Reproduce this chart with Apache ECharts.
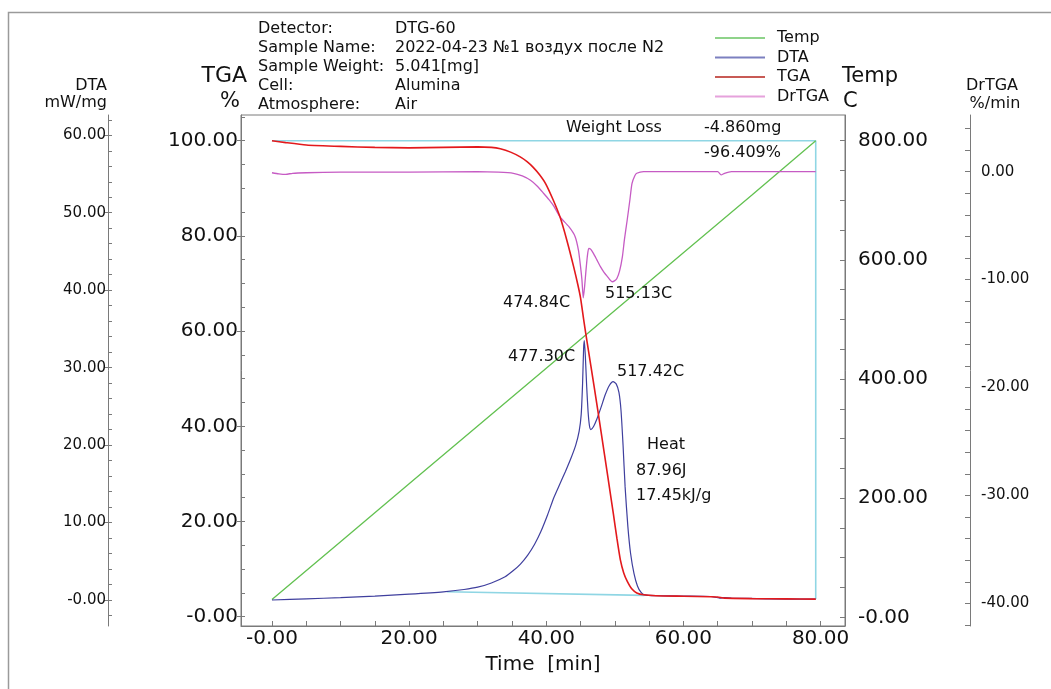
<!DOCTYPE html>
<html>
<head>
<meta charset="utf-8">
<script src="https://cdn.jsdelivr.net/npm/echarts@6/dist/echarts.min.js"></script>
<style>
html,body{margin:0;padding:0;background:#fff;}
#chart{width:1051px;height:689px;}
</style>
</head>
<body>
<div id="chart"></div>
<script>
// ---------- data (time in min) ----------
const tempPoints = [[0,30],[10,127],[20,224],[30,321],[40,418],[50,515],[60,612],[70,709],[79.3,800]];

const dtaPoints = [[0,0.0],[5,0.15],[10,0.3],[15,0.5],[20,0.75],[25,1.05],[28,1.35],[30,1.65],[32,2.2],[34,3.0],
  [35.2,3.8],[36.2,4.6],[37.3,5.8],[38.3,7.2],[39.2,8.8],[40.2,11.0],[41.1,13.2],[42.0,15.0],[42.8,16.6],
  [43.6,18.3],[44.3,20.0],[44.8,21.8],[45.1,24.0],[45.3,28.0],[45.45,32.5],[45.55,33.5],[45.7,31.5],
  [45.9,27.5],[46.1,24.3],[46.3,22.5],[46.5,22.0],[46.9,22.4],[47.4,23.4],[48.0,24.9],[48.6,26.5],
  [49.2,27.7],[49.75,28.2],[50.2,27.9],[50.6,26.8],[50.9,24.5],[51.2,20.0],[51.5,14.6],[51.9,9.5],
  [52.3,6.0],[52.8,3.4],[53.3,1.8],[53.8,1.0],[54.3,0.65],[56,0.55],[60,0.5],[64,0.45],[65.3,0.25],
  [66,0.3],[67,0.25],[72,0.15],[79.3,0.1]];

const tgaPoints = [[0,100.0],[2,99.6],[5,99.1],[10,98.8],[15,98.6],[20,98.5],[25,98.6],[30,98.7],[32,98.6],
  [33.3,98.3],[34.8,97.6],[36.2,96.6],[37.2,95.6],[38.1,94.4],[39.0,92.9],[39.9,91.0],[41.0,87.6],
  [42.0,84.0],[43.0,79.1],[44.0,73.5],[44.6,69.8],[45.0,67.0],[45.5,62.0],[46.0,57.3],[47.0,48.2],
  [48.0,38.8],[49.0,29.2],[49.8,21.5],[50.3,16.5],[50.8,12.0],[51.3,9.2],[51.8,7.5],[52.5,5.8],
  [53.2,5.0],[54.2,4.6],[56,4.4],[60,4.3],[64,4.2],[65,4.15],[66,3.9],[70,3.8],[75,3.75],[79.3,3.7]];

const drtgaPoints = [[0,-0.1],[1,-0.2],[2,-0.25],[3,-0.15],[5,-0.1],[10,-0.05],[20,-0.05],[30,0],[33,-0.05],
  [35.2,-0.15],[36.5,-0.4],[37.7,-0.8],[38.7,-1.35],[39.6,-2.0],[40.4,-2.6],[41.1,-3.2],[42.0,-4.2],
  [43.3,-5.1],[44.2,-6.0],[44.7,-7.3],[45.0,-8.8],[45.2,-10.0],[45.4,-11.7],[45.6,-10.6],[45.8,-9.1],
  [46.0,-7.8],[46.2,-7.1],[46.5,-7.2],[46.9,-7.6],[47.4,-8.2],[47.9,-8.8],[48.4,-9.3],[48.9,-9.7],
  [49.6,-10.2],[50.0,-10.1],[50.3,-9.9],[50.7,-9.2],[51.1,-7.9],[51.4,-6.3],[51.8,-4.5],[52.2,-2.6],
  [52.5,-1.1],[52.9,-0.4],[53.2,-0.15],[54.2,0],[60,0],[65,0],[65.5,-0.3],[66,-0.15],[67,0],[79.3,0]];

// weight-loss box (TGA axis) and DTA heat baseline
const weightLossBox = [[0,100],[79.3,100],[79.3,3.7]];
const dtaBaseline = [[25.5,1.07],[54.3,0.6]];

// ticks and labels
const xMajor = [0,20,40,60,80];
const xLabels = ['-0.00','20.00','40.00','60.00','80.00'];
const xMinor = [0,5,10,15,20,25,30,35,40,45,50,55,60,65,70,75,80];
const tgaMajor = [0,20,40,60,80,100];
const tgaLabels = ['-0.00','20.00','40.00','60.00','80.00','100.00'];
const tgaMinor = [0,5,10,15,20,25,30,35,40,45,50,55,60,65,70,75,80,85,90,95,100,105];
const dtaMajor = [0,10,20,30,40,50,60];
const dtaLabels = ['-0.00','10.00','20.00','30.00','40.00','50.00','60.00'];
const dtaMinor = [-2,0,2,4,6,8,10,12,14,16,18,20,22,24,26,28,30,32,34,36,38,40,42,44,46,48,50,52,54,56,58,60,62];
const tempMajor = [0,200,400,600,800];
const tempLabels = ['-0.00','200.00','400.00','600.00','800.00'];
const tempMinor = [0,50,100,150,200,250,300,350,400,450,500,550,600,650,700,750,800];
const drMajor = [0,-10,-20,-30,-40];
const drLabels = ['0.00','-10.00','-20.00','-30.00','-40.00'];
const drMinor = [4,2,0,-2,-4,-6,-8,-10,-12,-14,-16,-18,-20,-22,-24,-26,-28,-30,-32,-34,-36,-38,-40,-42];

const headerKeys = ['Detector:','Sample Name:','Sample Weight:','Cell:','Atmosphere:'];
const headerVals = ['DTG-60','2022-04-23 №1 воздух после N2','5.041[mg]','Alumina','Air'];

// ---------- chart ----------
const FONT = '"DejaVu Sans", "Liberation Sans", Arial, sans-serif';
const AX = '#7a7a7a';
const TXT = '#111';

function lookup(vals, labels){
  return function(v){
    for (let i=0;i<vals.length;i++){ if (Math.abs(vals[i]-v) < 1e-6) return labels[i]; }
    return '';
  };
}

function valueAxis(o){
  return Object.assign({
    type:'value', scale:false, splitLine:{show:false},
    axisLine:{show:true, onZero:false, lineStyle:{color:AX, width:1}},
  }, o);
}

const chart = echarts.init(document.getElementById('chart'), null, {renderer:'canvas'});

function txt(x, y, s, size, align){
  return {type:'text', x:x, y:y, silent:true, z:100,
    style:{text:s, fontSize:size, fontFamily:FONT, fill:TXT, align:align||'left', verticalAlign:'middle'}};
}

const graphics = [
  {type:'rect', shape:{x:8.5, y:12.5, width:1100, height:720}, style:{fill:'none', stroke:'#9a9a9a', lineWidth:1.5}, silent:true, z:0},
  // axis titles
  txt(107, 86, 'DTA', 16, 'right'),
  txt(107, 103, 'mW/mg', 16, 'right'),
  txt(247, 76, 'TGA', 22, 'right'),
  txt(240, 102, '%', 21, 'right'),
  txt(842, 77, 'Temp', 21, 'left'),
  txt(843, 102, 'C', 21, 'left'),
  txt(992, 86, 'DrTGA', 16, 'center'),
  txt(995, 104, '%/min', 16, 'center'),
  // annotations
  txt(566, 128, 'Weight Loss', 16, 'left'),
  txt(704, 128, '-4.860mg', 16, 'left'),
  txt(704, 153, '-96.409%', 16, 'left'),
  txt(503, 303, '474.84C', 16, 'left'),
  txt(605, 294, '515.13C', 16, 'left'),
  txt(508, 357, '477.30C', 16, 'left'),
  txt(617, 372, '517.42C', 16, 'left'),
  txt(647, 445, 'Heat', 16, 'left'),
  txt(636, 471, '87.96J', 16, 'left'),
  txt(636, 496, '17.45kJ/g', 16, 'left')
];
headerKeys.forEach(function(k,i){
  graphics.push(txt(258, 28.5 + i*19.2, k, 16, 'left'));
  graphics.push(txt(395, 28.5 + i*19.2, headerVals[i], 16, 'left'));
});

const lineSeries = function(name, data, yIdx, color, width, z, smooth){
  return {name:name, type:'line', data:data, xAxisIndex:0, yAxisIndex:yIdx, showSymbol:false, symbol:'none',
    smooth:smooth, clip:false, z:z||2, silent:true,
    lineStyle:{color:color, width:width}, itemStyle:{color:color}};
};

const option = {
  animation:false,
  backgroundColor:'#fff',
  textStyle:{fontFamily:FONT},
  grid:{left:241, right:206, top:115, bottom:63, show:true, borderColor:AX, borderWidth:1,
        containLabel:false, outerBoundsMode:'none'},
  legend:{
    orient:'vertical', left:710, top:24, itemWidth:50, itemHeight:2, itemGap:1.5, icon:'rect',
    textStyle:{fontFamily:FONT, fontSize:16, color:TXT, lineHeight:18, padding:[0,0,0,7]},
    selectedMode:false,
    data:[
      {name:'Temp', itemStyle:{color:'#8fd38a'}},
      {name:'DTA', itemStyle:{color:'#7c80c0'}},
      {name:'TGA', itemStyle:{color:'#c85a55'}},
      {name:'DrTGA', itemStyle:{color:'#e6a2dc'}}
    ]
  },
  xAxis:[valueAxis({
    position:'bottom', min:-4.52, max:83.57,
    axisTick:{show:true, inside:true, length:5, customValues:xMinor, lineStyle:{color:AX}},
    axisLabel:{show:true, customValues:xMajor, formatter:lookup(xMajor,xLabels), fontSize:20, color:TXT, margin:3, fontFamily:FONT},
    name:'Time  [min]', nameLocation:'middle', nameGap:29,
    nameTextStyle:{fontSize:20, color:TXT, fontFamily:FONT}
  })],
  yAxis:[
    valueAxis({ // 0 TGA
      position:'left', offset:0, min:-1.95, max:105.4,
      axisTick:{show:true, inside:true, length:4, customValues:tgaMinor, lineStyle:{color:AX}},
      axisLabel:{show:true, customValues:tgaMajor, formatter:lookup(tgaMajor,tgaLabels), fontSize:20, color:TXT, margin:3, fontFamily:FONT}
    }),
    valueAxis({ // 1 DTA
      position:'left', offset:133, min:-3.36, max:62.62,
      axisTick:{show:true, inside:true, length:4, customValues:dtaMinor, lineStyle:{color:AX}},
      axisLabel:{show:true, customValues:dtaMajor, formatter:lookup(dtaMajor,dtaLabels), fontSize:15, color:TXT, margin:2, fontFamily:FONT}
    }),
    valueAxis({ // 2 Temp
      position:'right', offset:0, min:-14.6, max:843.1,
      axisTick:{show:true, inside:true, length:5, customValues:tempMinor, lineStyle:{color:AX}},
      axisLabel:{show:true, customValues:tempMajor, formatter:lookup(tempMajor,tempLabels), fontSize:20, color:TXT, margin:13, fontFamily:FONT}
    }),
    valueAxis({ // 3 DrTGA
      position:'right', offset:125, min:-42.1, max:5.25,
      axisTick:{show:true, inside:true, length:5, customValues:drMinor, lineStyle:{color:AX}},
      axisLabel:{show:true, customValues:drMajor, formatter:lookup(drMajor,drLabels), fontSize:15, color:TXT, margin:11, fontFamily:FONT}
    }),
    valueAxis({ // 4 TGA major outward ticks
      position:'left', offset:0, min:-1.95, max:105.4,
      axisLine:{show:false, onZero:false},
      axisTick:{show:true, inside:false, length:4, customValues:tgaMajor, lineStyle:{color:AX}},
      axisLabel:{show:false}
    }),
    valueAxis({ // 5 DTA major outward ticks
      position:'left', offset:133, min:-3.36, max:62.62,
      axisLine:{show:false, onZero:false},
      axisTick:{show:true, inside:false, length:4, customValues:dtaMajor, lineStyle:{color:AX}},
      axisLabel:{show:false}
    })
  ],
  series:[
    lineSeries('Temp', tempPoints, 2, '#62c150', 1.3, 3, false),
    lineSeries('DTA', dtaPoints, 1, '#3f3f9e', 1.2, 4, 0.2),
    lineSeries('TGA', tgaPoints, 0, '#e3191c', 1.6, 5, 0.2),
    lineSeries('DrTGA', drtgaPoints, 3, '#c65bc4', 1.3, 4, 0.2),
    {name:'wlbox', type:'line', data:weightLossBox, xAxisIndex:0, yAxisIndex:0, showSymbol:false, symbol:'none',
      silent:true, z:1, lineStyle:{color:'#8fd6e4', width:1.6}},
    {name:'dtabase', type:'line', data:dtaBaseline, xAxisIndex:0, yAxisIndex:1, showSymbol:false, symbol:'none',
      silent:true, z:1, lineStyle:{color:'#8fd6e4', width:1.6}}
  ],
  graphic:graphics
};
chart.setOption(option);
</script>
</body>
</html>
